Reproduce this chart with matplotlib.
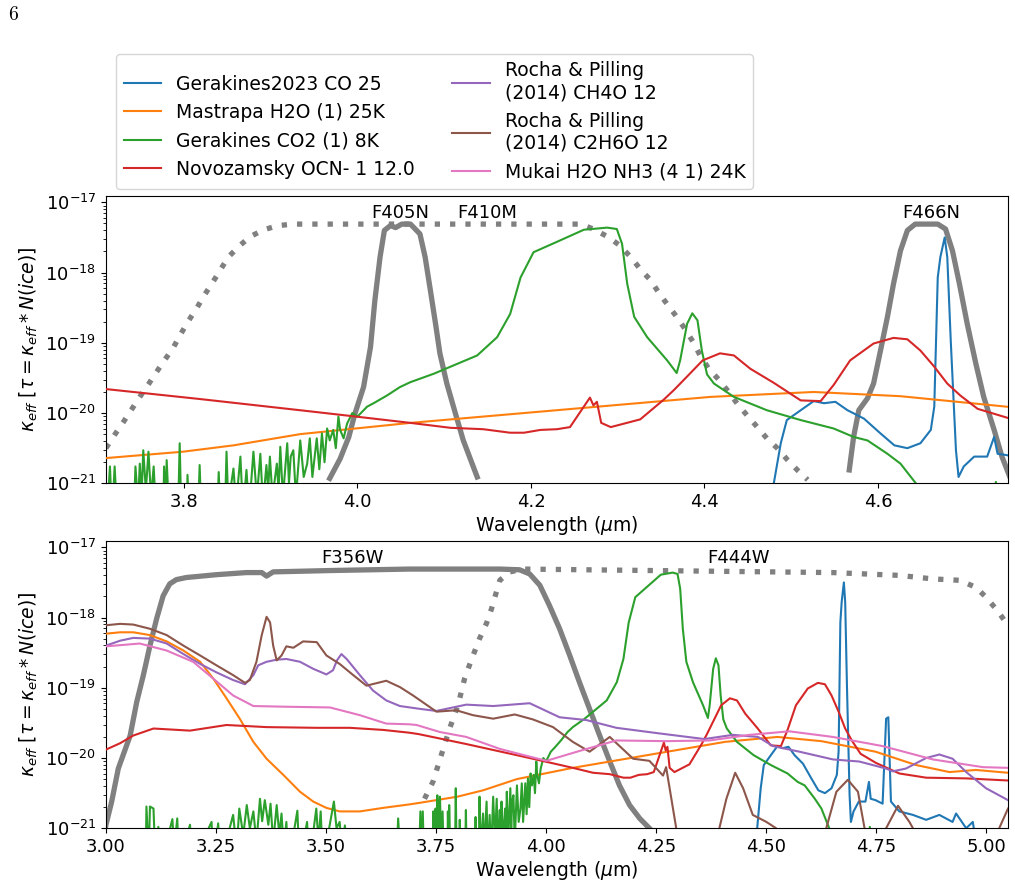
import numpy as np
import matplotlib
matplotlib.use("Agg")
import matplotlib.pyplot as plt

# wavelengths in micron, values given as log10(kappa_eff)
co_wl = [4.476, 4.480, 4.488, 4.495, 4.511, 4.526, 4.538, 4.551, 4.565, 4.584, 4.603, 4.619, 4.634,
         4.649, 4.661, 4.665, 4.669, 4.672, 4.677, 4.680, 4.684, 4.690, 4.693, 4.699, 4.711, 4.726,
         4.734, 4.738, 4.749, 4.765, 4.773, 4.778, 4.784, 4.803, 4.834, 4.864, 4.894, 4.924, 4.932,
         4.955, 4.970, 4.985]
co_log = [-21.5, -21.0, -20.43, -20.10, -19.96, -19.83, -19.86, -19.84, -19.96, -20.08, -20.29, -20.46,
          -20.50, -20.43, -20.24, -19.91, -18.07, -17.78, -17.50, -17.78, -18.97, -20.53, -20.91, -20.76,
          -20.62, -20.62, -20.34, -20.58, -20.60, -20.65, -19.44, -19.42, -20.62, -20.76, -20.81, -20.88,
          -20.81, -20.91, -20.79, -21.0, -20.91, -21.5]

h2o_wl = [3.000, 3.032, 3.062, 3.100, 3.138, 3.176, 3.214, 3.244, 3.274, 3.304, 3.335, 3.365, 3.403,
          3.441, 3.471, 3.501, 3.531, 3.577, 3.630, 3.690, 3.711, 3.799, 3.857, 3.934, 4.061, 4.407,
          4.526, 4.626, 4.749, 4.841, 4.917, 4.977, 5.050]
h2o_log = [-18.23, -18.21, -18.21, -18.25, -18.34, -18.47, -18.63, -18.87, -19.15, -19.44, -19.77, -20.01,
           -20.24, -20.48, -20.62, -20.71, -20.76, -20.76, -20.71, -20.66, -20.64, -20.55, -20.46, -20.30,
           -20.14, -19.77, -19.70, -19.76, -19.91, -20.10, -20.20, -20.17, -20.21]

co2_wl = [3.000, 3.090, 3.092, 3.097, 3.100, 3.108, 3.112, 3.119, 3.125, 3.151, 3.155, 3.162, 3.166,
          3.191, 3.196, 3.240, 3.244, 3.255, 3.260, 3.289, 3.297, 3.303, 3.312, 3.320, 3.327, 3.335,
          3.342, 3.350, 3.355, 3.361, 3.369, 3.374, 3.380, 3.388, 3.394, 3.399, 3.404, 3.410, 3.415,
          3.435, 3.440, 3.457, 3.462, 3.478, 3.483, 3.488, 3.493, 3.518, 3.524, 3.531, 3.537, 3.543,
          3.550, 3.660, 3.664, 3.670,
          3.711, 3.7146, 3.717, 3.720, 3.723, 3.742, 3.744, 3.747, 3.749, 3.751, 3.753, 3.756, 3.759,
          3.762, 3.765, 3.768, 3.776, 3.777, 3.779, 3.780, 3.783, 3.793, 3.795, 3.797, 3.803, 3.804,
          3.806, 3.816, 3.818, 3.820, 3.838, 3.840, 3.842, 3.847, 3.849, 3.851, 3.857, 3.860, 3.865,
          3.868, 3.872, 3.875, 3.880, 3.884, 3.888, 3.891, 3.895, 3.897, 3.899, 3.902, 3.907, 3.909,
          3.911, 3.914, 3.919, 3.921, 3.923, 3.926, 3.929, 3.934, 3.938, 3.942, 3.945, 3.948, 3.953,
          3.956, 3.959, 3.962, 3.965, 3.968, 3.972, 3.975, 3.978, 3.980, 3.984, 3.988, 3.994, 4.000,
          4.011, 4.020, 4.034, 4.049, 4.061, 4.088, 4.138, 4.161, 4.176, 4.188, 4.203, 4.234, 4.261,
          4.288, 4.299, 4.305, 4.311, 4.319, 4.334, 4.357, 4.368, 4.372, 4.380, 4.386, 4.392, 4.397,
          4.403, 4.411, 4.434, 4.472, 4.511, 4.549, 4.572, 4.588, 4.611, 4.626, 4.638, 4.645, 4.655,
          4.730, 4.736, 4.742, 5.050]
co2_log = [-21.5, -21.5, -20.69, -21.4, -20.69, -20.72, -21.4, -20.98, -21.5, -20.87, -21.3, -20.86, -21.5,
           -20.95, -21.5, -20.91, -21.5, -20.93, -21.5, -20.81, -21.3, -20.72, -21.1, -20.67, -21.0, -20.76,
           -21.2, -20.58, -20.9, -20.60, -20.95, -20.65, -21.2, -20.67, -21.1, -20.79, -21.3, -20.91, -21.5,
           -20.75, -21.5, -20.91, -21.5, -20.72, -21.2, -20.76, -21.5, -20.62, -21.0, -20.91, -21.3, -20.96,
           -21.5, -21.5, -20.86, -21.5,
           -21.5, -20.76, -21.5, -20.76, -21.5, -21.5, -20.76, -21.3, -20.72, -21.2, -20.53, -21.1, -20.55,
           -21.2, -20.76, -21.5, -21.5, -20.76, -21.3, -20.67, -21.5, -21.5, -20.43, -21.5, -21.5, -20.88,
           -21.5, -21.5, -20.74, -21.5, -21.5, -20.84, -21.5, -21.5, -20.55, -21.3, -20.79, -21.3, -20.62,
           -21.4, -20.81, -21.4, -20.55, -21.2, -20.58, -21.3, -20.74, -21.1, -20.62, -21.2, -20.72, -21.1,
           -20.48, -21.2, -20.43, -21.0, -20.62, -20.53, -21.2, -20.39, -20.91, -20.72, -20.36, -20.91, -20.36,
           -20.8, -20.29, -20.7, -20.22, -20.39, -20.24, -20.5, -20.05, -20.24, -20.36, -20.15, -20.0, -20.05,
           -19.91, -19.85, -19.75, -19.63, -19.56, -19.44, -19.18, -18.92, -18.59, -18.07, -17.71, -17.54, -17.39,
           -17.36, -17.38, -17.59, -18.16, -18.63, -18.92, -19.25, -19.43, -19.25, -18.73, -18.58, -18.68, -19.11,
           -19.45, -19.58, -19.77, -19.96, -20.10, -20.22, -20.34, -20.39, -20.58, -20.72, -20.91, -21.02, -21.4,
           -21.4, -20.98, -21.4, -21.5]

ocn_wl = [3.000, 3.032, 3.062, 3.108, 3.191, 3.274, 3.365, 3.479, 3.554, 3.630, 3.690, 3.711, 3.818,
          3.934, 3.991, 4.061, 4.107, 4.145, 4.176, 4.192, 4.211, 4.230, 4.245, 4.268, 4.272, 4.276,
          4.281, 4.292, 4.326, 4.353, 4.365, 4.380, 4.398, 4.418, 4.434, 4.453, 4.480, 4.511, 4.534,
          4.549, 4.568, 4.595, 4.618, 4.634, 4.649, 4.665, 4.680, 4.695, 4.715, 4.750, 4.803, 4.864,
          4.955, 5.050]
ocn_log = [-19.88, -19.79, -19.68, -19.58, -19.61, -19.53, -19.56, -19.57, -19.57, -19.60, -19.64, -19.66,
           -19.80, -19.96, -20.04, -20.14, -20.21, -20.23, -20.28, -20.28, -20.24, -20.23, -20.20, -19.78,
           -19.89, -19.84, -20.14, -20.20, -20.09, -19.81, -19.67, -19.48, -19.25, -19.15, -19.18, -19.37,
           -19.57, -19.82, -19.83, -19.60, -19.25, -19.01, -18.93, -18.95, -19.11, -19.34, -19.58, -19.75,
           -19.94, -20.07, -20.22, -20.28, -20.29, -20.32]

ch4o_wl = [3.000, 3.032, 3.062, 3.100, 3.138, 3.176, 3.214, 3.251, 3.289, 3.316, 3.335, 3.346, 3.365,
           3.388, 3.410, 3.441, 3.471, 3.501, 3.516, 3.525, 3.535, 3.547, 3.577, 3.607, 3.637, 3.668,
           3.713, 3.751, 3.819, 3.880, 3.963, 4.031, 4.092, 4.160, 4.258, 4.360, 4.425, 4.482, 4.516,
           4.576, 4.652, 4.712, 4.773, 4.788, 4.818, 4.864, 4.894, 4.924, 4.955, 5.000, 5.050]
ch4o_log = [-18.40, -18.33, -18.29, -18.30, -18.37, -18.52, -18.66, -18.78, -18.89, -18.95, -18.82, -18.68,
            -18.63, -18.60, -18.59, -18.63, -18.73, -18.81, -18.75, -18.61, -18.52, -18.59, -18.82, -19.04,
            -19.18, -19.26, -19.30, -19.33, -19.24, -19.26, -19.22, -19.42, -19.46, -19.57, -19.65, -19.73,
            -19.67, -19.70, -19.83, -19.91, -20.02, -20.05, -20.15, -20.19, -20.15, -20.00, -19.95, -20.01,
            -20.20, -20.43, -20.60]

c2h6o_wl = [3.000, 3.032, 3.062, 3.100, 3.138, 3.176, 3.214, 3.251, 3.289, 3.316, 3.327, 3.342, 3.354,
            3.365, 3.373, 3.380, 3.388, 3.399, 3.410, 3.426, 3.448, 3.479, 3.501, 3.531, 3.562, 3.592,
            3.637, 3.668, 3.698, 3.751, 3.796, 3.834, 3.880, 3.929, 3.970, 4.016, 4.061, 4.099, 4.145,
            4.198, 4.235, 4.266, 4.273, 4.281, 4.296, 4.310, 4.380, 4.394, 4.410, 4.430, 4.448, 4.470,
            4.501, 4.523, 4.540, 4.620, 4.637, 4.660, 4.686, 4.709, 4.724, 4.740, 4.760, 4.773, 4.800,
            4.826, 4.834, 4.850, 5.020, 5.030, 5.050]
c2h6o_log = [-18.11, -18.09, -18.10, -18.16, -18.25, -18.40, -18.54, -18.68, -18.82, -18.93, -18.89, -18.63,
             -18.25, -17.99, -18.07, -18.40, -18.61, -18.54, -18.41, -18.43, -18.34, -18.35, -18.54, -18.66,
             -18.82, -18.97, -18.90, -18.99, -19.11, -19.34, -19.32, -19.39, -19.44, -19.38, -19.45, -19.56,
             -19.77, -19.91, -19.70, -20.01, -20.04, -20.25, -20.13, -20.43, -21.0, -21.6, -21.6, -21.0,
             -20.58, -20.21, -20.43, -20.81, -20.91, -21.0, -21.6, -21.6, -21.0, -20.48, -20.31, -20.48,
             -21.0, -21.6, -21.6, -21.0, -20.68, -20.91, -21.0, -21.6, -21.6, -21.0, -20.72]

nh3_wl = [3.000, 3.077, 3.138, 3.198, 3.244, 3.289, 3.335, 3.410, 3.509, 3.577, 3.637, 3.690, 3.706,
          3.759, 3.819, 3.895, 3.963, 4.001, 4.076, 4.160, 4.273, 4.372, 4.463, 4.553, 4.652, 4.765,
          4.879, 4.993, 5.050]
nh3_log = [-18.41, -18.37, -18.47, -18.63, -18.87, -19.11, -19.26, -19.27, -19.28, -19.39, -19.51, -19.52,
           -19.53, -19.63, -19.70, -19.87, -19.98, -20.04, -19.90, -19.75, -19.76, -19.75, -19.67, -19.62,
           -19.70, -19.83, -20.02, -20.13, -20.14]

species = [
    ("Gerakines2023 CO 25", co_wl, co_log),
    ("Mastrapa H2O (1) 25K", h2o_wl, h2o_log),
    ("Gerakines CO2 (1) 8K", co2_wl, co2_log),
    ("Novozamsky OCN- 1 12.0", ocn_wl, ocn_log),
    ("Rocha & Pilling\n(2014) CH4O 12", ch4o_wl, ch4o_log),
    ("Rocha & Pilling\n(2014) C2H6O 12", c2h6o_wl, c2h6o_log),
    ("Mukai H2O NH3 (4 1) 24K", nh3_wl, nh3_log),
]

# filter transmission curves, scaled to the plot
f405n_wl = [3.968, 3.980, 3.990, 3.997, 4.007, 4.015, 4.020, 4.026, 4.031, 4.038, 4.044, 4.051, 4.061,
            4.065, 4.072, 4.078, 4.084, 4.090, 4.095, 4.103, 4.113, 4.122, 4.138]
f405n_log = [-20.93, -20.65, -20.34, -20.01, -19.63, -19.06, -18.40, -17.78, -17.40, -17.33, -17.36, -17.31,
             -17.31, -17.36, -17.45, -17.78, -18.25, -18.73, -19.15, -19.58, -20.01, -20.39, -20.91]
f410m_wl = [3.700, 3.711, 3.720, 3.730, 3.740, 3.749, 3.759, 3.768, 3.778, 3.788, 3.796, 3.805, 3.815,
            3.823, 3.833, 3.842, 3.851, 3.863, 3.876, 3.892, 3.909, 3.926, 4.257, 4.272, 4.290, 4.303,
            4.315, 4.326, 4.338, 4.347, 4.357, 4.368, 4.378, 4.387, 4.395, 4.405, 4.417, 4.428, 4.438,
            4.449, 4.461, 4.472, 4.484, 4.496, 4.507, 4.519]
f410m_log = [-20.68, -20.48, -20.31, -20.13, -19.94, -19.77, -19.59, -19.42, -19.24, -19.06, -18.88, -18.69,
             -18.50, -18.33, -18.14, -17.96, -17.78, -17.63, -17.49, -17.39, -17.33, -17.31, -17.31, -17.38,
             -17.50, -17.62, -17.78, -17.95, -18.11, -18.28, -18.45, -18.63, -18.81, -18.99, -19.18, -19.37,
             -19.53, -19.70, -19.87, -20.03, -20.20, -20.36, -20.50, -20.67, -20.81, -20.95]
f466n_wl = [4.567, 4.572, 4.578, 4.588, 4.595, 4.603, 4.611, 4.618, 4.626, 4.634, 4.643, 4.669, 4.678,
            4.686, 4.694, 4.703, 4.713, 4.722, 4.734, 4.743, 4.749, 4.755]
f466n_log = [-20.81, -20.34, -19.96, -19.79, -19.58, -19.11, -18.63, -18.16, -17.69, -17.40, -17.31, -17.31,
             -17.38, -17.69, -18.16, -18.73, -19.30, -19.77, -20.24, -20.62, -20.81, -21.0]
f356w_wl = [2.995, 3.000, 3.013, 3.028, 3.055, 3.070, 3.085, 3.100, 3.115, 3.130, 3.145, 3.160, 3.183,
            3.251, 3.319, 3.354, 3.365, 3.380, 3.516, 3.690, 3.895, 3.940, 3.963, 3.986, 4.008, 4.031,
            4.054, 4.076, 4.099, 4.122, 4.145, 4.167, 4.190, 4.213, 4.235]
f356w_log = [-21.1, -20.95, -20.62, -20.15, -19.68, -19.20, -18.82, -18.40, -18.02, -17.69, -17.52, -17.46,
             -17.43, -17.39, -17.36, -17.36, -17.41, -17.35, -17.33, -17.31, -17.31, -17.32, -17.38, -17.54,
             -17.83, -18.16, -18.54, -18.92, -19.30, -19.68, -20.05, -20.39, -20.67, -20.86, -21.0]
f444w_wl = [3.724, 3.743, 3.762, 3.781, 3.800, 3.815, 3.830, 3.849, 3.865, 3.876, 3.895, 3.918, 3.948,
            4.652, 4.803, 4.879, 4.940, 4.977, 5.000, 5.023, 5.042, 5.055]
f444w_log = [-20.58, -20.34, -19.96, -19.58, -19.25, -18.87, -18.61, -18.30, -18.08, -17.88, -17.47, -17.35,
             -17.31, -17.36, -17.40, -17.45, -17.47, -17.57, -17.71, -17.88, -18.04, -18.14]

top_filters = [("F405N", f405n_wl, f405n_log, "-", 4.049),
               ("F410M", f410m_wl, f410m_log, ":", 4.150),
               ("F466N", f466n_wl, f466n_log, "-", 4.661)]
bottom_filters = [("F356W", f356w_wl, f356w_log, "-", 3.560),
                  ("F444W", f444w_wl, f444w_log, ":", 4.438)]

plt.rcParams["font.size"] = 13

fig = plt.figure(figsize=(10.15, 8.93), dpi=100)
ax1 = fig.add_axes([0.1044, 0.4588, 0.8887, 0.3217])
ax2 = fig.add_axes([0.1044, 0.0725, 0.8887, 0.3217])

colors = ["C0", "C1", "C2", "C3", "C4", "C5", "C6"]
handles = []
for i, (label, wl, lg) in enumerate(species):
    k = 10 ** np.array(lg)
    if i < 4:
        ax1.plot(wl, k, color=colors[i], lw=1.5, zorder=3)
    h, = ax2.plot(wl, k, color=colors[i], lw=1.5, label=label, zorder=3)
    handles.append(h)

# filter curves sit underneath the spectra
for ax, filts in [(ax1, top_filters), (ax2, bottom_filters)]:
    for name, wl, lg, ls, xt in filts:
        if ls == ":":
            ax.plot(wl, 10 ** np.array(lg), color="grey", lw=3.8, linestyle=(0, (1, 1.9)), zorder=2)
        else:
            ax.plot(wl, 10 ** np.array(lg), color="grey", lw=3.8, zorder=2)
        ax.text(xt, 6e-18, name, ha="center", va="baseline", fontsize=13)

ax1.set_xlim(3.71, 4.75)
ax2.set_xlim(3.0, 5.05)
ax2.set_xticks([3.0, 3.25, 3.5, 3.75, 4.0, 4.25, 4.5, 4.75, 5.0])
ax1.set_xticks([3.8, 4.0, 4.2, 4.4, 4.6])
for ax in (ax1, ax2):
    ax.set_yscale("log")
    ax.set_ylim(1e-21, 1.23e-17)
    ax.set_xlabel(r"Wavelength ($\mu$m)", fontsize=13.5, labelpad=2)
    ax.set_ylabel(r"$\kappa_{eff}$ [$\tau = \kappa_{eff} * N(ice)$]", fontsize=13.5)
    ax.tick_params(labelsize=13)

fig.legend(handles=handles, loc="upper left", bbox_to_anchor=(116 / 1015, 1 - 54 / 893),
           ncol=2, fontsize=13.5, borderaxespad=0)

fig.text(8 / 1015, 1 - 15 / 893, r"$6$", math_fontfamily="cm", fontsize=14, va="center")

fig.savefig("out.png", dpi=100)
